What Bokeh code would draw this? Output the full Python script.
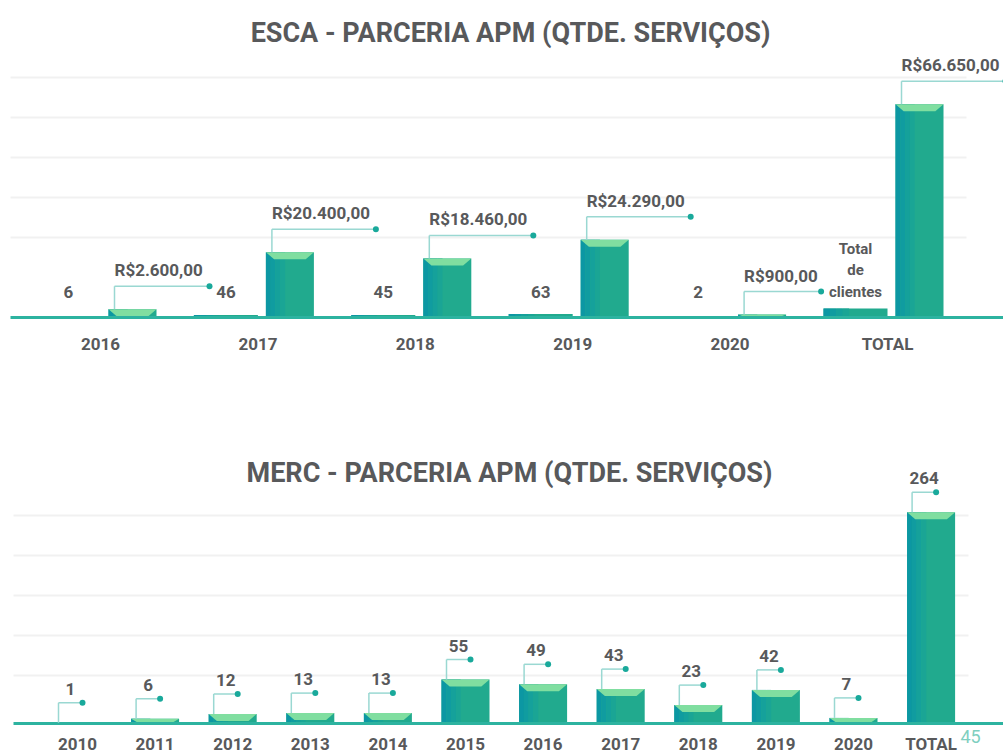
from bokeh.plotting import figure
from bokeh.layouts import column
from bokeh.models import Range1d
from bokeh.core.properties import value
from bokeh.embed import file_html
from bokeh.resources import INLINE

# ---------------- data ----------------
esca_title = "ESCA - PARCERIA APM (QTDE. SERVIÇOS)"
esca_categories = ["2016", "2017", "2018", "2019", "2020", "TOTAL"]
esca_clients = [6, 46, 45, 63, 2, 162]
esca_client_labels = ["6", "46", "45", "63", "2", "Total\nde\nclientes"]
esca_values = [2600, 20400, 18460, 24290, 900, 66650]
esca_value_labels = ["R$2.600,00", "R$20.400,00", "R$18.460,00",
                     "R$24.290,00", "R$900,00", "R$66.650,00"]
esca_grid = [25000, 37500, 50000, 62500, 75000]

merc_title = "MERC - PARCERIA APM (QTDE. SERVIÇOS)"
merc_categories = ["2010", "2011", "2012", "2013", "2014", "2015",
                   "2016", "2017", "2018", "2019", "2020", "TOTAL"]
merc_values = [1, 6, 12, 13, 13, 55, 49, 43, 23, 42, 7, 264]
merc_grid = [60, 110, 160, 210, 260]

page_number = "45"

# ---------------- style ----------------
FONT = "Roboto"
TXT = "#58595b"
BAR = "#21aa8e"
STRIPS = ["#0c97a3", "#109ca0", "#15a19b", "#1aa595"]
CAP = "#80dea0"
LEAD = "#9ad8d2"
DOT = "#19a99b"
BASE = "#2db3a0"
GRID = "#f1f1f1"


def make_fig(height, xr, yr):
    p = figure(width=1003, height=height, x_range=xr, y_range=yr,
               output_backend="svg", toolbar_location=None,
               min_border_left=0, min_border_right=0,
               min_border_top=0, min_border_bottom=0,
               x_axis_location=None, y_axis_location=None)
    p.xgrid.visible = False
    p.ygrid.visible = False
    p.outline_line_color = None
    p.background_fill_color = "white"
    p.border_fill_color = "white"
    return p


def add_text(p, x, y, text, size, align="center", baseline="middle",
             style="bold", color=TXT, **kw):
    p.text(x=x, y=y, text=text, text_font=value(FONT), text_font_style=style,
           text_font_size=size, text_color=color, text_align=align,
           text_baseline=baseline, **kw)


def draw_bars(p, centers, tops, width, cap_h, y_range_name="default", cap=True):
    lefts = [c - width / 2 for c in centers]
    rights = [c + width / 2 for c in centers]
    p.quad(left=lefts, right=rights, bottom=0, top=tops, fill_color=BAR,
           line_color=None, y_range_name=y_range_name)
    for k, col in enumerate(STRIPS):
        p.quad(left=[l + width * 0.1 * k for l in lefts],
               right=[l + width * 0.1 * (k + 1) for l in lefts],
               bottom=0, top=tops, fill_color=col, line_color=None,
               y_range_name=y_range_name)
    if cap:
        xs, ys = [], []
        for l, r, t in zip(lefts, rights, tops):
            inset = (r - l) * 0.17
            b = max(t - cap_h, 0)
            xs.append([l, r, r - inset, l + inset])
            ys.append([t, t, b, b])
        p.patches(xs, ys, fill_color=CAP, line_color=None, y_range_name=y_range_name)


# ================= ESCA chart =================
E_H = 400
e_n = len(esca_categories)
e_px = 157.4            # pixels per category
e_unit = 0.0032         # pixels per R$
c_unit = 9 / 162        # pixels per client
E_BASE = 317            # pixel row of baseline
esca = make_fig(E_H, Range1d(-100 / e_px, 903 / e_px),
                Range1d(-(E_H - E_BASE) / e_unit, E_BASE / e_unit))
esca.extra_y_ranges = {"clients": Range1d(-(E_H - E_BASE) / c_unit, E_BASE / c_unit)}

add_text(esca, [(510 - 100) / e_px], [(E_BASE - 32) / e_unit], [esca_title], "27px")

esca.segment(x0=-90 / e_px, x1=866 / e_px, y0=esca_grid, y1=esca_grid,
             line_color=GRID, line_width=2)

pos = list(range(e_n))
client_x = [i - 32 / e_px for i in pos]
value_x = [i + 32 / e_px for i in pos]
draw_bars(esca, client_x, esca_clients, 64 / e_px, 0, "clients", cap=False)
draw_bars(esca, value_x, esca_values, 48 / e_px, 7 / e_unit)

esca.segment(x0=[-90 / e_px], x1=[903 / e_px], y0=[0], y1=[0],
             line_color=BASE, line_width=3)

lead_x = [x - 24 / e_px + 6 / e_px for x in value_x]
lead_y = [v + 23 / e_unit for v in esca_values]
lead_len = [(9.0 * len(s) + 5) / e_px for s in esca_value_labels]
lead_end = [x + L for x, L in zip(lead_x, lead_len)]
esca.segment(x0=lead_x, x1=lead_x, y0=esca_values, y1=lead_y,
             line_color=LEAD, line_width=1.5)
esca.segment(x0=lead_x, x1=lead_end, y0=lead_y, y1=lead_y,
             line_color=LEAD, line_width=1.5)
esca.scatter(x=lead_end, y=lead_y, size=6, fill_color=DOT, line_color=None)
add_text(esca, lead_x, [y + 6 / e_unit for y in lead_y], esca_value_labels,
         "17px", align="left", baseline="bottom")

num_idx = [i for i, s in enumerate(esca_client_labels) if "\n" not in s]
multi_idx = [i for i, s in enumerate(esca_client_labels) if "\n" in s]
add_text(esca, [client_x[i] for i in num_idx], [26 / e_unit] * len(num_idx),
         [esca_client_labels[i] for i in num_idx], "17px")
add_text(esca, [client_x[i] for i in multi_idx], [47 / e_unit] * len(multi_idx),
         [esca_client_labels[i] for i in multi_idx], "15px", text_line_height=1.2)

add_text(esca, pos, [-26 / e_unit] * e_n, esca_categories, "17px")

# ================= MERC chart =================
M_H = 356
m_n = len(merc_categories)
m_px = 77.6
m_unit = 0.8
M_BASE = 323
merc = make_fig(M_H, Range1d(-77 / m_px, 926 / m_px),
                Range1d(-(M_H - M_BASE) / m_unit, M_BASE / m_unit))

add_text(merc, [(509 - 77) / m_px], [(M_BASE - 72) / m_unit], [merc_title], "27px")

merc.segment(x0=-64 / m_px, x1=891 / m_px, y0=merc_grid, y1=merc_grid,
             line_color=GRID, line_width=2)
mpos = list(range(m_n))
draw_bars(merc, mpos, merc_values, 48 / m_px, 7 / m_unit)
merc.segment(x0=[-64 / m_px], x1=[926 / m_px], y0=[0], y1=[0],
             line_color=BASE, line_width=3)

m_lead_x = [i - 24 / m_px + 5 / m_px for i in mpos]
m_lead_y = [v + 20 / m_unit for v in merc_values]
m_lead_end = [x + 24 / m_px for x in m_lead_x]
merc.segment(x0=m_lead_x, x1=m_lead_x, y0=merc_values, y1=m_lead_y,
             line_color=LEAD, line_width=1.5)
merc.segment(x0=m_lead_x, x1=m_lead_end, y0=m_lead_y, y1=m_lead_y,
             line_color=LEAD, line_width=1.5)
merc.scatter(x=m_lead_end, y=m_lead_y, size=6, fill_color=DOT, line_color=None)
add_text(merc, [(a + b) / 2 for a, b in zip(m_lead_x, m_lead_end)],
         [y + 8 / m_unit for y in m_lead_y], [str(v) for v in merc_values],
         "17px", baseline="bottom")

add_text(merc, mpos, [-20 / m_unit] * m_n, merc_categories, "17px")
add_text(merc, [(960 - 77) / m_px], [-13 / m_unit], [page_number], "18px",
         align="left", style="normal", color="#7fcfc0")

layout = column(esca, merc, spacing=0)
open("out.html", "w").write(file_html(layout, INLINE))
